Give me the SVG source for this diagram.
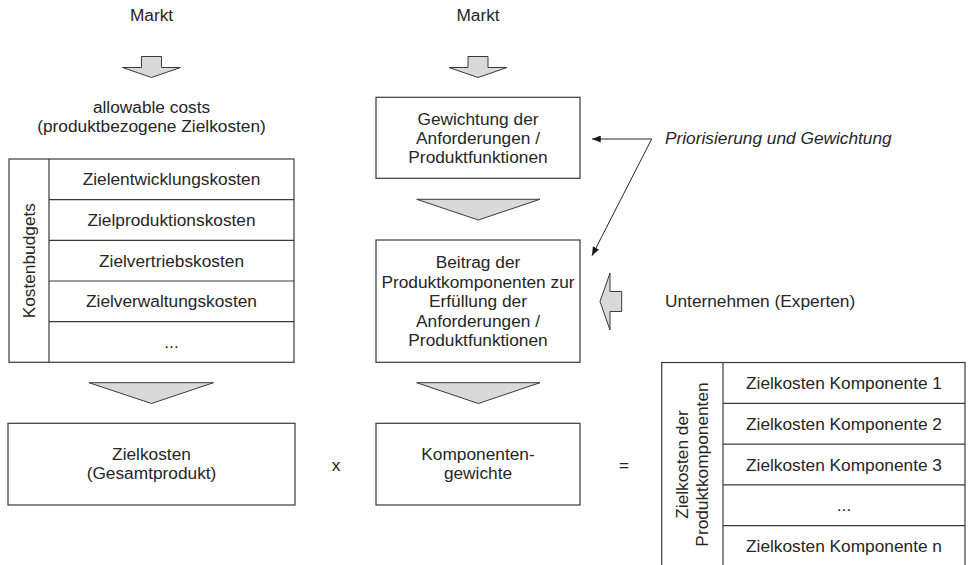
<svg xmlns="http://www.w3.org/2000/svg" width="969" height="565" viewBox="0 0 969 565">
  <defs>
    <style>
      text { font-family: "Liberation Sans", Arial, sans-serif; font-size: 17.3px; fill: #262626; }
      .c { text-anchor: middle; }
      .it { font-style: italic; }
      .box { fill: #ffffff; stroke: #3a3a3a; stroke-width: 1.2; }
      .line { fill: none; stroke: #3a3a3a; stroke-width: 1.2; }
      .block { fill: #d9d9d9; stroke: #3a3a3a; stroke-width: 1; stroke-linejoin: miter; }
      .conn { fill: none; stroke: #262626; stroke-width: 1; }
    </style>
    <marker id="head" viewBox="0 0 10 8" refX="10" refY="4" markerWidth="9" markerHeight="7" markerUnits="userSpaceOnUse" orient="auto">
      <path d="M0,0 L10,4 L0,8 Z" fill="#1a1a1a"/>
    </marker>
    <!-- block arrow pointing down, origin at its tip -->
    <path id="blockDown" d="M-10,-21 L10,-21 L10,-10 L29,-10 L0,0 L-29,-10 L-10,-10 Z"/>
  </defs>

  <!-- left column: market input and cost budgets -->
  <g id="markt-left">
    <text class="c" x="151.5" y="21">Markt</text>
  </g>
  <g id="arrow-markt-left">
    <use href="#blockDown" class="block" x="151.5" y="77.5"/>
  </g>
  <g id="allowable-costs">
    <text class="c" x="151.5" y="113">allowable costs</text>
    <text class="c" x="151.5" y="132">(produktbezogene Zielkosten)</text>
  </g>
  <g id="kostenbudgets">
    <rect class="box" x="9" y="159" width="285" height="203.3"/>
    <line class="line" x1="49" y1="159" x2="49" y2="362.3"/>
    <line class="line" x1="49" y1="199.7" x2="294" y2="199.7"/>
    <line class="line" x1="49" y1="240.3" x2="294" y2="240.3"/>
    <line class="line" x1="49" y1="281" x2="294" y2="281"/>
    <line class="line" x1="49" y1="321.7" x2="294" y2="321.7"/>
    <text class="c" transform="translate(35,260.7) rotate(-90)">Kostenbudgets</text>
    <text class="c" x="171.5" y="185.3">Zielentwicklungskosten</text>
    <text class="c" x="171.5" y="226">Zielproduktionskosten</text>
    <text class="c" x="171.5" y="266.7">Zielvertriebskosten</text>
    <text class="c" x="171.5" y="307.3">Zielverwaltungskosten</text>
    <text class="c" x="171.5" y="348">...</text>
  </g>
  <g id="tri-left">
    <path class="block" d="M89,382.7 L213.5,382.7 L151.5,403.5 Z"/>
  </g>
  <g id="zielkosten-gesamt">
    <rect class="box" x="8" y="423.3" width="287" height="81.7"/>
    <text class="c" x="151.5" y="459.5">Zielkosten</text>
    <text class="c" x="151.5" y="478.5">(Gesamtprodukt)</text>
  </g>
  <g id="op-mal">
    <text class="c" x="336" y="471">x</text>
  </g>

  <!-- middle column: weighting of requirements and components -->
  <g id="markt-mid">
    <text class="c" x="478" y="21">Markt</text>
  </g>
  <g id="arrow-markt-mid">
    <use href="#blockDown" class="block" x="478" y="77.5"/>
  </g>
  <g id="gewichtung">
    <rect class="box" x="376" y="97.3" width="204" height="81"/>
    <text class="c" x="478" y="125">Gewichtung der</text>
    <text class="c" x="478" y="144">Anforderungen /</text>
    <text class="c" x="478" y="163">Produktfunktionen</text>
  </g>
  <g id="tri-mid-1">
    <path class="block" d="M416.7,199.3 L540,199.3 L478.3,220 Z"/>
  </g>
  <g id="beitrag">
    <rect class="box" x="376" y="240" width="204" height="122.3"/>
    <text class="c" x="478" y="268">Beitrag der</text>
    <text class="c" x="478" y="287.5">Produktkomponenten zur</text>
    <text class="c" x="478" y="307">Erfüllung der</text>
    <text class="c" x="478" y="326.5">Anforderungen /</text>
    <text class="c" x="478" y="346">Produktfunktionen</text>
  </g>
  <g id="tri-mid-2">
    <path class="block" d="M416.7,382.7 L540,382.7 L478.3,403.5 Z"/>
  </g>
  <g id="komponentengewichte">
    <rect class="box" x="376" y="423.3" width="204" height="81.7"/>
    <text class="c" x="478" y="459.5">Komponenten-</text>
    <text class="c" x="478" y="478.5">gewichte</text>
  </g>
  <g id="op-gleich">
    <text class="c" x="624" y="471">=</text>
  </g>

  <!-- right side: annotations and component target costs -->
  <g id="priorisierung">
    <text class="it" x="665" y="143.5">Priorisierung und Gewichtung</text>
  </g>
  <g id="unternehmen">
    <text x="665" y="307">Unternehmen (Experten)</text>
  </g>
  <g id="arrow-unternehmen">
    <path class="block" d="M621.7,291.5 L621.7,311.5 L610,311.5 L610,330 L600,301.5 L610,273 L610,291.5 Z"/>
  </g>
  <g id="zielkosten-komponenten">
    <rect class="box" x="661.7" y="362.5" width="303.3" height="204"/>
    <line class="line" x1="723" y1="362.5" x2="723" y2="566.5"/>
    <line class="line" x1="723" y1="403.3" x2="965" y2="403.3"/>
    <line class="line" x1="723" y1="444.1" x2="965" y2="444.1"/>
    <line class="line" x1="723" y1="484.9" x2="965" y2="484.9"/>
    <line class="line" x1="723" y1="525.7" x2="965" y2="525.7"/>
    <text class="c" transform="translate(688,464.5) rotate(-90)">Zielkosten der</text>
    <text class="c" transform="translate(707.5,464.5) rotate(-90)">Produktkomponenten</text>
    <text class="c" x="844" y="389">Zielkosten Komponente 1</text>
    <text class="c" x="844" y="429.8">Zielkosten Komponente 2</text>
    <text class="c" x="844" y="470.6">Zielkosten Komponente 3</text>
    <text class="c" x="844" y="511.4">...</text>
    <text class="c" x="844" y="552.2">Zielkosten Komponente n</text>
  </g>

  <!-- connectors from the annotation to both weighting steps -->
  <g id="connectors">
    <path class="conn" d="M651.7,139 L592,139" marker-end="url(#head)"/>
    <path class="conn" d="M651.7,139 L592,255.7" marker-end="url(#head)"/>
  </g>
</svg>
